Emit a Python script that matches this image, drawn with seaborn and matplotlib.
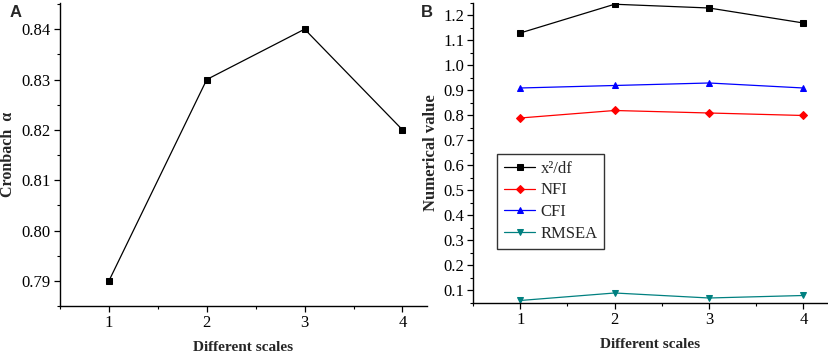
import matplotlib
matplotlib.use("Agg")
import matplotlib.pyplot as plt
import seaborn as sns
import pandas as pd
from matplotlib.ticker import MultipleLocator

scales = [1, 2, 3, 4]
cronbach = [0.79, 0.83, 0.84, 0.82]

chi_df = [1.13, 1.245, 1.23, 1.17]
nfi = [0.79, 0.82, 0.81, 0.80]
cfi = [0.91, 0.92, 0.93, 0.91]
rmsea = [0.06, 0.09, 0.07, 0.08]

series_names = ["x\u00b2/df", "NFI", "CFI", "RMSEA"]
series_values = [chi_df, nfi, cfi, rmsea]
series_colors = ["black", "#ff0000", "#0000ff", "#008080"]
series_markers = ["s", "D", "^", "v"]

sns.set_style("ticks")
plt.rcParams["font.family"] = ["Liberation Serif", "DejaVu Serif"]

fig = plt.figure(figsize=(8.29, 3.56), dpi=100)
axA = fig.add_axes([0.0724, 0.1404, 0.4426, 0.8512])
axB = fig.add_axes([0.5706, 0.1489, 0.4270, 0.8427])

dfA = pd.DataFrame({"scale": scales, "value": cronbach})
sns.lineplot(data=dfA, x="scale", y="value", ax=axA, color="black", lw=0.9,
             marker="s", markersize=5, markeredgecolor="black", markerfacecolor="black")

for name, vals, col, mk in zip(series_names, series_values, series_colors, series_markers):
    d = pd.DataFrame({"scale": scales, "value": vals})
    ms = 5 if mk != "D" else 4.2
    sns.lineplot(data=d, x="scale", y="value", ax=axB, color=col, lw=0.9,
                 marker=mk, markersize=ms, markeredgecolor=col, markerfacecolor=col,
                 label=name)

for ax in (axA, axB):
    for s in ("top", "right"):
        ax.spines[s].set_visible(False)
    for s in ("left", "bottom"):
        ax.spines[s].set_linewidth(1.0)
        ax.spines[s].set_color("black")
    ax.set_xlim(0.5, 4.25)
    ax.set_xticks(scales)
    ax.xaxis.set_minor_locator(MultipleLocator(0.5))
    ax.tick_params(which="major", direction="out", length=4, width=0.9, colors="black",
                   labelsize=12, pad=2.5)
    ax.tick_params(which="minor", direction="out", length=2.5, width=0.8, colors="black")

axA.set_xlabel("Different scales", fontsize=11, fontweight="bold", labelpad=7.5)
axB.set_xlabel("Different scales", fontsize=11, fontweight="bold", labelpad=7)

axA.set_ylim(0.785, 0.8452)
axA.set_yticks([0.79, 0.80, 0.81, 0.82, 0.83, 0.84])
axA.set_yticklabels(["0.79", "0.80", "0.81", "0.82", "0.83", "0.84"])
axA.yaxis.set_minor_locator(MultipleLocator(0.005))
axA.set_ylabel("Cronbach  \u03b1", fontsize=11.5, fontweight="bold", labelpad=4)

axB.set_ylim(0.05, 1.25)
yt = [0.1, 0.2, 0.3, 0.4, 0.5, 0.6, 0.7, 0.8, 0.9, 1.0, 1.1, 1.2]
axB.set_yticks(yt)
axB.set_yticklabels([f"{v:.1f}" for v in yt])
axB.yaxis.set_minor_locator(MultipleLocator(0.05))
axB.set_ylabel("Numerical value", fontsize=12, fontweight="bold", labelpad=3)

leg = axB.legend(loc="upper left", bbox_to_anchor=(0.068, 0.497), borderaxespad=0,
                 frameon=True, fancybox=False, edgecolor="black", fontsize=12,
                 handlelength=1.9, handletextpad=0.3, labelspacing=0.35,
                 borderpad=0.4, markerscale=0.9)
leg.get_frame().set_linewidth(1.0)

fig.text(0.012, 0.965, "A", fontsize=12, fontweight="bold", family="Liberation Sans",
         va="center", ha="left")
fig.text(0.508, 0.965, "B", fontsize=12, fontweight="bold", family="Liberation Sans",
         va="center", ha="left")

fig.savefig("out.png", dpi=100)
